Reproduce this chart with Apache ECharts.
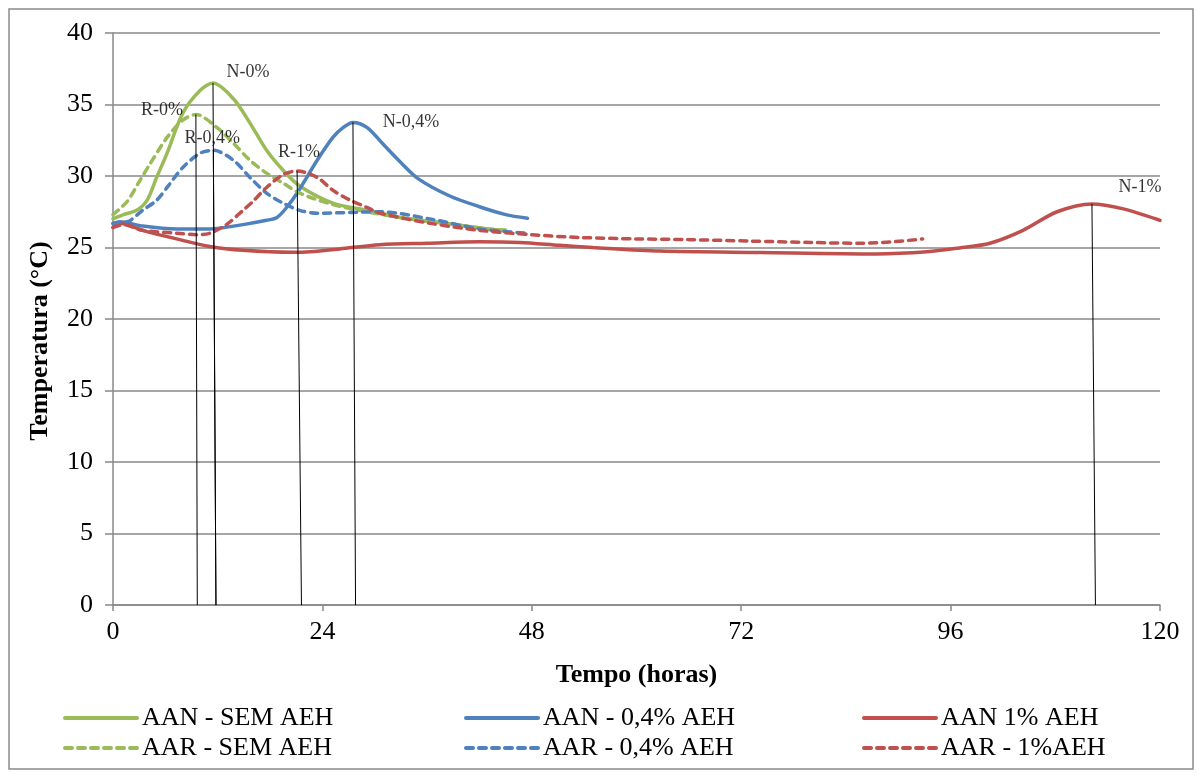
<!DOCTYPE html>
<html>
<head>
<meta charset="utf-8">
<title>Temperatura x Tempo</title>
<script src="https://cdn.jsdelivr.net/npm/echarts@6/dist/echarts.min.js"></script>
<style>
  html, body { margin: 0; padding: 0; background: #ffffff; }
  #chart { width: 1202px; height: 778px; }
</style>
</head>
<body>
<div id="chart"></div>
<script>
// Temperature curves (°C) against time (hours)
const aanSemHours = [0, 1.2, 2.7, 3.9, 5, 6.2, 8, 10, 11.46, 13.8, 15.7, 17.6, 19.5, 21.4, 25.2, 29.1, 32.9, 38, 43, 45];
const aanSemTemp  = [27.0, 27.3, 27.6, 28.3, 29.9, 31.6, 34.4, 36.0, 36.5, 35.4, 33.7, 31.8, 30.4, 29.3, 28.1, 27.6, 27.1, 26.7, 26.3, 26.2];

const aarSemHours = [0, 1.6, 3.0, 4.2, 6.2, 8, 9.5, 11.9, 13.8, 15.7, 17.6, 19.5, 21.4, 25.2, 29.1, 32.9, 38, 43, 45];
const aarSemTemp  = [27.3, 28.2, 29.6, 30.8, 32.7, 33.9, 34.3, 33.4, 32.3, 31.1, 30.2, 29.5, 28.8, 28.0, 27.5, 27.1, 26.7, 26.3, 26.2];

const aan04Hours = [0, 0.8, 3.4, 7.3, 11.1, 14.9, 17.6, 18.8, 19.9, 21.2, 23.4, 25.2, 26.4, 27.5, 29.1, 31, 32.9, 35, 38.6, 42, 45, 47.5];
const aan04Temp  = [26.65, 26.8, 26.5, 26.3, 26.3, 26.6, 26.9, 27.1, 27.8, 28.9, 31.1, 32.7, 33.4, 33.75, 33.4, 32.2, 31.0, 29.8, 28.6, 27.85, 27.3, 27.05];

const aar04Hours = [0, 1.6, 2, 3.4, 5, 6.2, 8, 10, 11.5, 13.8, 15.7, 17.6, 19.5, 21.4, 23.4, 27.2, 30.6, 36.3, 42, 47.4];
const aar04Temp  = [26.7, 26.8, 26.9, 27.6, 28.3, 29.2, 30.6, 31.6, 31.8, 31.1, 29.9, 28.8, 28.1, 27.6, 27.4, 27.45, 27.5, 27.0, 26.3, 26.0];

const aan1Hours = [0, 0.8, 3.4, 7.3, 11.1, 14.9, 20.6, 22.6, 26, 30.6, 36, 42, 46.6, 51.2, 55, 62.7, 74.2, 87.5, 93.3, 97, 100.5, 104.3, 108.2, 112.2, 115.8, 120];
const aan1Temp  = [26.4, 26.7, 26.2, 25.6, 25.07, 24.8, 24.66, 24.7, 24.9, 25.2, 25.3, 25.4, 25.35, 25.15, 25.0, 24.75, 24.65, 24.55, 24.7, 24.97, 25.3, 26.2, 27.5, 28.05, 27.7, 26.9];

const aar1Hours = [0, 1.2, 3.4, 7.3, 9.6, 11.1, 13, 14.9, 16, 17.6, 19.5, 21.1, 23.4, 25.2, 27.2, 29.1, 30.6, 36.3, 42, 47.8, 53.5, 60, 66, 73, 80, 85.6, 89.4, 92.8];
const aar1Temp  = [26.4, 26.6, 26.2, 26.0, 25.9, 26.0, 26.6, 27.6, 28.2, 29.2, 30.1, 30.35, 29.9, 29.0, 28.3, 27.8, 27.4, 26.7, 26.2, 25.9, 25.7, 25.6, 25.55, 25.45, 25.35, 25.3, 25.4, 25.6];

// Peak annotations: label, peak time, peak temperature, time where the drop line meets the axis
const peakNames   = ['N-0%', 'R-0%', 'R-0,4%', 'R-1%', 'N-0,4%', 'N-1%'];
const peakHours   = [11.46, 9.5, 11.5, 21.1, 27.5, 112.2];
const peakTemps   = [36.5, 34.3, 31.8, 30.35, 33.75, 28.05];
const peakBaseHrs = [11.8, 9.66, 11.8, 21.6, 27.8, 112.6];

const xTicks = [0, 24, 48, 72, 96, 120];
const yTicks = [0, 5, 10, 15, 20, 25, 30, 35, 40];

const seriesNames = [
  'AAN - SEM AEH', 'AAN - 0,4% AEH', 'AAN 1% AEH',
  'AAR - SEM AEH', 'AAR - 0,4% AEH', 'AAR - 1%AEH'
];

const GREEN = '#9BBB59', BLUE = '#4F81BD', RED = '#C0504D';
const SERIF = "'Liberation Serif', 'Times New Roman', serif";
const GRID_GREY = '#888888';

function pairs(h, t) { return h.map((x, i) => [x, t[i]]); }

function curve(name, h, t, color, dashed) {
  return {
    name: name,
    type: 'line',
    data: pairs(h, t),
    smooth: 0.3,
    showSymbol: false,
    symbol: 'none',
    lineStyle: {
      color: color,
      width: 3.5,
      type: dashed ? [7, 6] : 'solid',
      cap: 'round'
    },
    itemStyle: { color: color },
    z: 3
  };
}

// Offsets (px) of each peak label from its peak
const labelOffsets = [[35, -11], [-34, -4], [-1, -12], [2, -19], [58, 0], [48, -17]];

const dropLines = peakNames.map((n, i) => [
  { coord: [peakHours[i], peakTemps[i]] },
  { coord: [peakBaseHrs[i], 0] }
]);

const peakLabels = peakNames.map((n, i) => ({
  name: n,
  value: [peakHours[i], peakTemps[i]],
  label: { offset: labelOffsets[i] }
}));

const chart = echarts.init(document.getElementById('chart'), null, { renderer: 'canvas' });

const option = {
  animation: false,
  backgroundColor: '#ffffff',
  grid: { left: 113, right: 42, top: 33, bottom: 173, containLabel: false },
  xAxis: {
    type: 'value',
    min: xTicks[0],
    max: xTicks[xTicks.length - 1],
    interval: 24,
    name: 'Tempo (horas)',
    nameLocation: 'middle',
    nameGap: 57,
    nameTextStyle: { fontFamily: SERIF, fontSize: 26, fontWeight: 'bold', color: '#000' },
    axisLine: { show: true, onZero: false, lineStyle: { color: GRID_GREY, width: 1.5 } },
    axisTick: { show: true, inside: false, length: 6, lineStyle: { color: GRID_GREY, width: 1.5 } },
    axisLabel: { fontFamily: SERIF, fontSize: 26, color: '#000', margin: 14 },
    splitLine: { show: false }
  },
  yAxis: {
    type: 'value',
    min: yTicks[0],
    max: yTicks[yTicks.length - 1],
    interval: 5,
    axisLine: { show: true, lineStyle: { color: GRID_GREY, width: 1.5 } },
    axisTick: { show: true, inside: false, length: 8, lineStyle: { color: GRID_GREY, width: 1.5 } },
    axisLabel: { fontFamily: SERIF, fontSize: 26, color: '#000', margin: 20 },
    splitLine: { show: true, lineStyle: { color: GRID_GREY, width: 1.5 } }
  },
  legend: [0, 1, 2].map(col => ({
    orient: 'vertical',
    left: [63, 464, 862][col],
    top: 705,
    padding: 0,
    itemWidth: 72,
    itemHeight: 14,
    itemGap: 4,
    itemStyle: { opacity: 0 },
    lineStyle: { width: 4 },
    textStyle: { fontFamily: SERIF, fontSize: 26, color: '#000', lineHeight: 26 },
    data: [seriesNames[col], seriesNames[col + 3]],
    selectedMode: false
  })),
  graphic: [
    {
      type: 'rect',
      silent: true,
      shape: { x: 9, y: 9, width: 1184, height: 760 },
      style: { fill: 'none', stroke: '#8a8a8a', lineWidth: 1.5 },
      z: 0
    },
    {
      type: 'text',
      silent: true,
      x: 40,
      y: 341,
      rotation: Math.PI / 2,
      style: {
        text: 'Temperatura (°C)',
        font: "bold 26px 'Liberation Serif', 'Times New Roman', serif",
        fill: '#000',
        align: 'center',
        verticalAlign: 'middle'
      }
    }
  ],
  series: [
    curve(seriesNames[0], aanSemHours, aanSemTemp, GREEN, false),
    curve(seriesNames[1], aan04Hours, aan04Temp, BLUE, false),
    curve(seriesNames[2], aan1Hours, aan1Temp, RED, false),
    curve(seriesNames[3], aarSemHours, aarSemTemp, GREEN, true),
    curve(seriesNames[4], aar04Hours, aar04Temp, BLUE, true),
    curve(seriesNames[5], aar1Hours, aar1Temp, RED, true),
    {
      // drop lines from each peak to the time axis, plus the peak names
      name: 'peaks',
      type: 'scatter',
      symbolSize: 0,
      data: peakLabels,
      label: {
        show: true,
        position: 'inside',
        formatter: p => p.name,
        fontFamily: SERIF,
        fontSize: 18,
        color: '#000'
      },
      markLine: {
        silent: true,
        symbol: ['none', 'none'],
        label: { show: false },
        lineStyle: { color: '#000', width: 1, type: 'solid' },
        data: dropLines
      },
      z: 5
    }
  ]
};

chart.setOption(option);
</script>
</body>
</html>
